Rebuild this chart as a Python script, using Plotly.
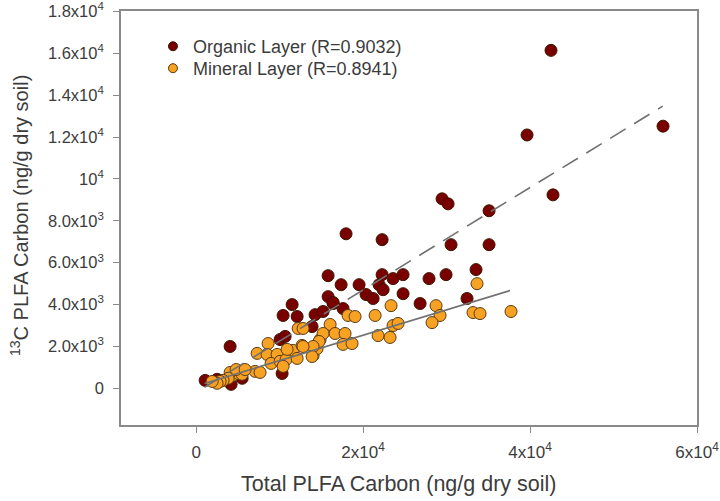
import plotly.graph_objects as go
import numpy as np

# Organic layer (Total PLFA carbon, 13C PLFA carbon), ng/g dry soil
org_x = [1080, 4070, 2510, 4190, 5510, 10300, 10060, 10660, 10420, 12100, 11500,
         14250, 15210, 13890, 16410, 17600, 17960, 22280, 15810, 17370, 19520,
         22280, 23590, 24790, 21920, 22400, 20360, 21200, 24790, 15810, 16410,
         26830, 27900, 29940, 33530, 32450, 39640, 55930, 29460, 30180, 42750,
         35090, 30540, 35090, 42510]
org_y = [380, 2000, 430, 190, 480, 710, 2330, 2480, 3480, 3430, 4000,
         3520, 3670, 2950, 4050, 3810, 7380, 7100, 5380, 4950, 4950,
         5430, 5240, 5430, 4950, 4710, 4480, 4290, 4520, 4380, 4100,
         4050, 5240, 5430, 5670, 4290, 12100, 12520, 9050, 8810, 9240,
         8480, 6860, 6860, 16140]

# Mineral layer
min_x = [8620, 7310, 8500, 9700, 8980, 10060, 10780, 10420, 11620, 12690, 12100,
         14010, 14490, 14850, 12220, 12810, 16050, 15210, 16650, 17840, 17600,
         18680, 21440, 18200, 19040, 23350, 23590, 24190, 21800, 23230, 7070,
         7660, 4430, 5030, 5510, 4070, 3830, 3230, 2870, 28740, 29220, 28260,
         33650, 33170, 34010, 37720, 14730, 14010, 13890, 12810, 10900, 4790,
         5870, 2510, 1920]
min_y = [2140, 1670, 1620, 1620, 1190, 1290, 1380, 1050, 1810, 2050, 1430,
         1570, 1900, 2330, 2860, 2860, 3050, 2620, 2620, 2620, 2100,
         2140, 3480, 3480, 3430, 3950, 3000, 3100, 2520, 2430, 810,
         760, 620, 710, 670, 760, 480, 380, 330, 3950, 3480, 3140,
         5000, 3620, 3570, 3670, 2240, 2000, 1520, 2000, 1860, 900,
         900, 240, 330]

# Regression lines: slope, intercept, x extent
org_fit = dict(slope=0.2445, intercept=-190, x0=1000, x1=55900)
min_fit = dict(slope=0.1213, intercept=110, x0=1000, x1=37600)

series_names = ["Organic Layer (R=0.9032)", "Mineral Layer (R=0.8941)"]

x_tickvals = [0, 20000, 40000, 60000]
x_ticktext = ["0", "2x10<sup>4</sup>", "4x10<sup>4</sup>", "6x10<sup>4</sup>"]
y_tickvals = [0, 2000, 4000, 6000, 8000, 10000, 12000, 14000, 16000, 18000]
y_ticktext = ["0", "2.0x10<sup>3</sup>", "4.0x10<sup>3</sup>", "6.0x10<sup>3</sup>",
              "8.0x10<sup>3</sup>", "10<sup>4</sup>", "1.2x10<sup>4</sup>",
              "1.4x10<sup>4</sup>", "1.6x10<sup>4</sup>", "1.8x10<sup>4</sup>"]

FONT = "Arial, Liberation Sans, sans-serif"
TXT = "#3c3c3c"
ORG_COLOR = "#7a0000"
MIN_COLOR = "#f7a223"
ORG_EDGE = "#3a1500"
MIN_EDGE = "#5a3a10"

fig = go.Figure()
fig.add_trace(go.Scatter(
    x=org_x, y=org_y, mode="markers", name=series_names[0], showlegend=False,
    marker=dict(size=12, color=ORG_COLOR, line=dict(color=ORG_EDGE, width=1))))
fig.add_trace(go.Scatter(
    x=min_x, y=min_y, mode="markers", name=series_names[1], showlegend=False,
    marker=dict(size=12, color=MIN_COLOR, line=dict(color=MIN_EDGE, width=1))))

for fit, dash in [(org_fit, "18px,10px"), (min_fit, "solid")]:
    xs = np.array([fit["x0"], fit["x1"]])
    ys = fit["slope"] * xs + fit["intercept"]
    fig.add_trace(go.Scatter(x=xs, y=ys, mode="lines", showlegend=False,
                             line=dict(color="#707070", width=1.6, dash=dash),
                             hoverinfo="skip"))

# legend entries with smaller symbols, one per legend box for exact row spacing
for name, col, edge, lg in [(series_names[0], ORG_COLOR, ORG_EDGE, "legend"),
                            (series_names[1], MIN_COLOR, MIN_EDGE, "legend2")]:
    fig.add_trace(go.Scatter(x=[None], y=[None], mode="markers", name=name, legend=lg,
                             marker=dict(size=9, color=col, line=dict(color=edge, width=1))))

axis_common = dict(showgrid=False, zeroline=False, showline=True, linecolor="#8a8a8a",
                   linewidth=1.6, mirror=True, ticks="outside", tickcolor="#8a8a8a",
                   ticklen=6, tickwidth=1.2, automargin=False, ticklabeloverflow="allow")

legend_common = dict(xanchor="left", yanchor="top", bgcolor="rgba(255,255,255,0)",
                     itemwidth=30, font=dict(family=FONT, size=18, color=TXT))

fig.update_layout(
    width=720, height=501,
    margin=dict(l=121, r=23, t=11, b=76),
    paper_bgcolor="white", plot_bgcolor="white",
    font=dict(family=FONT, color=TXT),
    xaxis=dict(range=[-9000, 60000], tickvals=x_tickvals, ticktext=x_ticktext,
               ticklabelstandoff=5, tickfont=dict(family=FONT, size=17, color=TXT),
               **axis_common),
    yaxis=dict(range=[-1750, 18020], tickvals=y_tickvals, ticktext=y_ticktext,
               ticklabelstandoff=6, tickfont=dict(family=FONT, size=16.5, color=TXT),
               **axis_common),
    legend=dict(x=0.0555, y=0.9588, **legend_common),
    legend2=dict(x=0.0555, y=0.9058, **legend_common),
    annotations=[
        dict(text="Total PLFA Carbon (ng/g dry soil)", xref="paper", yref="paper",
             x=0.483, y=-0.1425, xanchor="center", yanchor="middle", showarrow=False,
             font=dict(family=FONT, size=21.5, color=TXT)),
        dict(text="<sup>13</sup>C PLFA Carbon (ng/g dry soil)", xref="paper", yref="paper",
             x=-0.1753, y=0.505, xanchor="center", yanchor="middle", showarrow=False,
             textangle=-90, font=dict(family=FONT, size=20, color=TXT)),
    ],
)

fig.write_html("out.html", config={"displayModeBar": False},
               post_script="document.body.style.margin='0';")
